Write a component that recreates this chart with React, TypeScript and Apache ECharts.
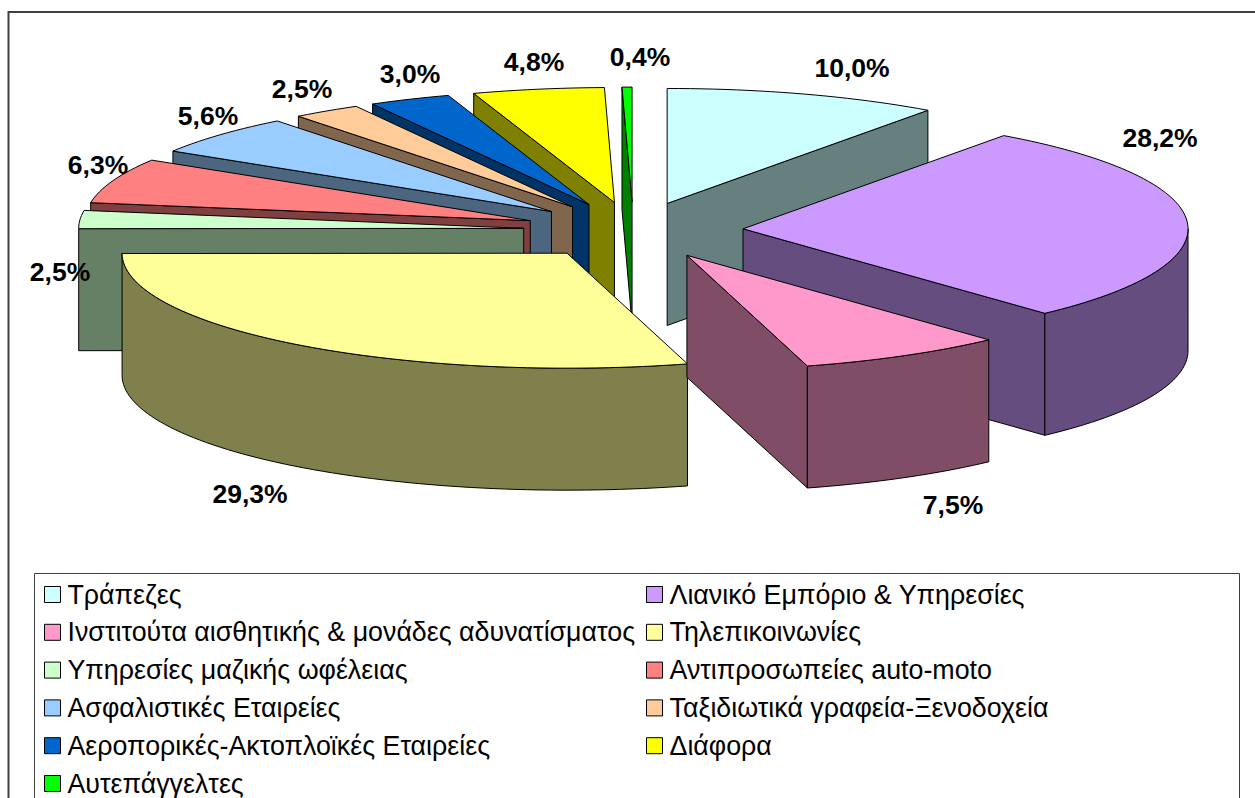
import React, { useEffect, useRef } from "react";
import * as echarts from "echarts";

const CATEGORIES = [
  "Τράπεζες",
  "Λιανικό Εμπόριο & Υπηρεσίες",
  "Ινστιτούτα αισθητικής & μονάδες αδυνατίσματος",
  "Τηλεπικοινωνίες",
  "Υπηρεσίες μαζικής ωφέλειας",
  "Αντιπροσωπείες auto-moto",
  "Ασφαλιστικές Εταιρείες",
  "Ταξιδιωτικά γραφεία-Ξενοδοχεία",
  "Αεροπορικές-Ακτοπλοϊκές Εταιρείες",
  "Διάφορα",
  "Αυτεπάγγελτες",
];
const VALUES = [9.96, 28.16, 7.5, 29.3, 2.54, 6.32, 5.62, 2.48, 2.96, 4.76, 0.36];

const TOP_COLORS = ["#CCFFFF", "#CC99FF", "#FF99CC", "#FFFF99", "#CCFFCC", "#FF8080", "#99CCFF", "#FFCC99", "#0066CC", "#FFFF00", "#00FF00"];
const WALL_COLORS = ["#668080", "#664D80", "#804D66", "#80804D", "#668066", "#804040", "#4D6680", "#80664D", "#003366", "#808000", "#008000"];

// Centre of each percentage label on the page.
const LABEL_CENTRES = [
  [852, 68], [1160, 138], [953, 505], [250, 494], [60, 272], [98, 165],
  [208, 116], [302, 89], [410, 74], [534, 62], [640, 57],
];

const CX = 633.3;
const CY = 230.5;
const RX = 445;
const RY = 115;
const DEPTH = 122;
const EXPLODE = 0.247;
const FONT = "'Liberation Sans', Arial, sans-serif";

const total = VALUES.reduce((a, b) => a + b, 0);
const bounds: number[] = [0];
VALUES.forEach((v, i) => bounds.push(bounds[i] + (v / total) * 360));

const rad = (d: number) => (d * Math.PI) / 180;

function sliceElements(i: number) {
  const a0 = bounds[i];
  const a1 = bounds[i + 1];
  const mid = (a0 + a1) / 2;
  const ax = CX + EXPLODE * RX * Math.sin(rad(mid));
  const ay = CY - EXPLODE * RY * Math.cos(rad(mid));
  const rim = (d: number, dy = 0) => [ax + RX * Math.sin(rad(d)), ay - RY * Math.cos(rad(d)) + dy];
  const sweep = (from: number, to: number, dy = 0) => {
    const pts: number[][] = [];
    const n = Math.max(1, Math.ceil((to - from) / 1.5));
    for (let k = 0; k <= n; k++) pts.push(rim(from + ((to - from) * k) / n, dy));
    return pts;
  };
  const poly = (points: number[][], fill: string) => ({
    type: "polygon",
    shape: { points },
    style: { fill, stroke: "#000", lineWidth: 1, lineJoin: "miter" },
  });
  const radialWall = (d: number) =>
    poly([[ax, ay], rim(d), rim(d, DEPTH), [ax, ay + DEPTH]], WALL_COLORS[i]);

  const children: any[] = [];
  if (a1 < 180) children.push(radialWall(a1));
  if (a0 >= 180) children.push(radialWall(a0));
  const f = Math.max(a0, 90);
  const t = Math.min(a1, 270);
  if (t - f > 0.5) {
    children.push(poly([...sweep(f, t), ...sweep(f, t, DEPTH).reverse()], WALL_COLORS[i]));
  }
  children.push(poly([[ax, ay], ...sweep(a0, a1)], TOP_COLORS[i]));
  return children;
}

// Back-to-front painting order: slices nearer the top of the ellipse first.
const paintRank = VALUES.map((_, i) => {
  const m = (bounds[i] + bounds[i + 1]) / 2;
  return Math.min(m, 360 - m);
});

const pct = (v: number) => v.toFixed(1).replace(".", ",") + "%";

export default function App() {
  const ref = useRef<HTMLDivElement>(null);
  useEffect(() => {
    document.body.style.margin = "0";
    const chart = echarts.init(ref.current!, undefined, { renderer: "svg" });
    const legendBase = {
      orient: "vertical" as const,
      top: 581,
      height: 260,
      padding: 0,
      itemWidth: 16,
      itemHeight: 16,
      itemGap: 10.8,
      icon: "rect",
      selectedMode: false,
      itemStyle: { borderColor: "#000", borderWidth: 1 },
      textStyle: { fontFamily: FONT, fontSize: 26.8, color: "#000", padding: [0, 0, 0, 2] },
    };
    const series: any[] = VALUES.map((v, i) => ({
      type: "custom",
      name: CATEGORIES[i],
      coordinateSystem: "none",
      z: 2 + paintRank[i] / 100,
      itemStyle: { color: TOP_COLORS[i] },
      data: [[v]],
      silent: true,
      renderItem: () => ({ type: "group", children: sliceElements(i) }),
    }));
    series.push({
      type: "custom",
      name: "labels",
      coordinateSystem: "none",
      z: 20,
      silent: true,
      data: VALUES.map((v) => [v]),
      renderItem: (params: any, api: any) => ({
        type: "text",
        x: LABEL_CENTRES[params.dataIndex][0],
        y: LABEL_CENTRES[params.dataIndex][1],
        style: {
          text: pct(api.value(0)),
          fontFamily: FONT,
          fontSize: 26.5,
          fontWeight: "bold",
          fill: "#000",
          align: "center",
          verticalAlign: "middle",
        },
      }),
    });
    chart.setOption({
      animation: false,
      backgroundColor: "#fff",
      legend: [
        { ...legendBase, left: 44, data: CATEGORIES.filter((_, i) => i % 2 === 0) },
        { ...legendBase, left: 646, data: CATEGORIES.filter((_, i) => i % 2 === 1) },
      ],
      graphic: [
        { type: "rect", z: 0, silent: true, shape: { x: 8.5, y: 12, width: 2000, height: 2000 }, style: { fill: "none", stroke: "#404040", lineWidth: 2 } },
        { type: "rect", z: 0, silent: true, shape: { x: 34.5, y: 573.5, width: 1205, height: 600 }, style: { fill: "none", stroke: "#404040", lineWidth: 1 } },
      ],
      series,
    });
    return () => chart.dispose();
  }, []);
  return <div ref={ref} style={{ position: "fixed", left: 0, top: 0, width: 1255, height: 798 }} />;
}
